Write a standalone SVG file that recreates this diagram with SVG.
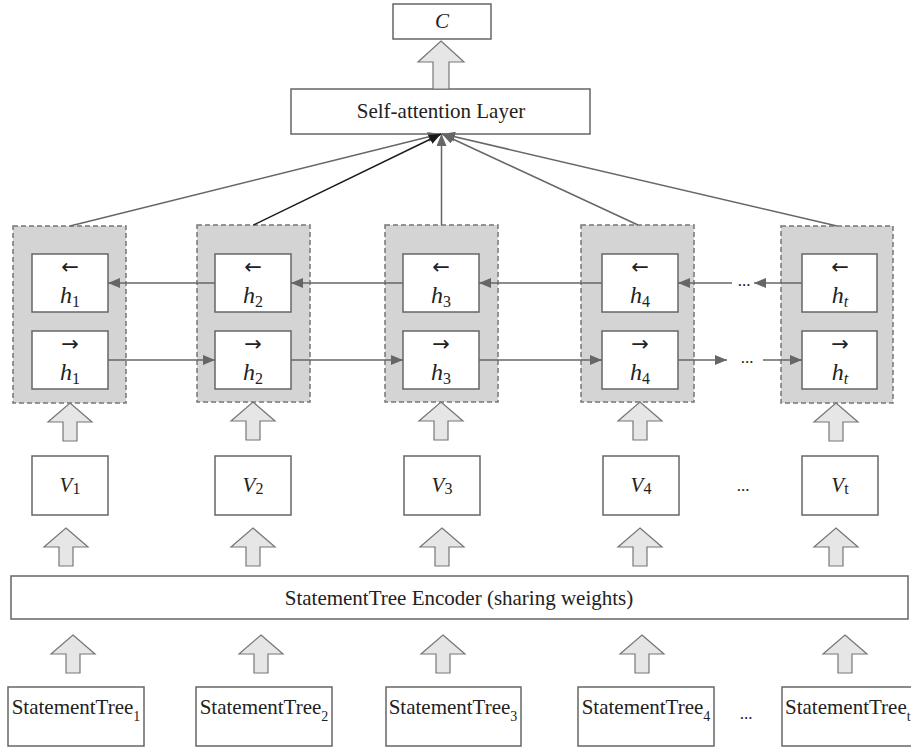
<svg xmlns="http://www.w3.org/2000/svg" xmlns:xlink="http://www.w3.org/1999/xlink" width="911" height="748" viewBox="0 0 911 748">
  <style>
    .box { fill: #ffffff; stroke: #666666; stroke-width: 1.5; }
    .grp { fill: #d4d4d4; stroke: #777777; stroke-width: 1.5; stroke-dasharray: 5 3; }
    .blk { fill: #e6e6e6; stroke: #777777; stroke-width: 1.2; }
    .conn { fill: none; stroke: #666666; stroke-width: 1.5; }
    .dark { stroke: #1a1a1a; }
    .t { font-family: "Liberation Serif", "DejaVu Serif", serif; font-size: 21px; fill: #222222; }
    .h { font-size: 24px; }
    .it { font-style: italic; }
    .sub { font-size: 14px; }
    .hsub { font-size: 16px; }
    .arr { font-family: "DejaVu Sans", sans-serif; font-size: 21px; fill: #222222; }
    .dots { font-family: "Liberation Serif", serif; font-size: 17px; fill: #222222; }
  </style>
  <defs>
    <marker id="head" viewBox="0 0 12 10" markerUnits="userSpaceOnUse" markerWidth="12" markerHeight="10" refX="12" refY="5" orient="auto">
      <path d="M0,0 L12,5 L0,10 z" fill="#666666"/>
    </marker>
    <marker id="headDark" viewBox="0 0 12 10" markerUnits="userSpaceOnUse" markerWidth="12" markerHeight="10" refX="12" refY="5" orient="auto">
      <path d="M0,0 L12,5 L0,10 z" fill="#1a1a1a"/>
    </marker>
    <!-- hollow block arrow, tip at origin -->
    <path id="up" class="blk" d="M0,0 L22,19 L7,19 L7,38 L-7,38 L-7,19 L-22,19 Z"/>
  </defs>

  <!-- output -->
  <g id="node-c">
    <rect class="box" x="393" y="4" width="98" height="35"/>
    <text class="t it" x="442" y="28" text-anchor="middle">C</text>
  </g>
  <g id="node-attention">
    <rect class="box" x="291" y="89" width="299" height="45"/>
    <text class="t" x="441" y="118" text-anchor="middle">Self-attention Layer</text>
  </g>

  <!-- bidirectional hidden-state cells -->
  <g id="node-h1">
    <rect class="grp" x="13" y="226" width="113" height="177"/>
    <rect class="box" x="32" y="254" width="76" height="58"/>
    <rect class="box" x="32" y="331" width="76" height="58"/>
    <text class="arr" x="70" y="274" text-anchor="middle">←</text>
    <text class="t h" x="70" y="303" text-anchor="middle"><tspan class="it">h</tspan><tspan class="hsub" dy="4">1</tspan></text>
    <text class="arr" x="70" y="351" text-anchor="middle">→</text>
    <text class="t h" x="70" y="380" text-anchor="middle"><tspan class="it">h</tspan><tspan class="hsub" dy="4">1</tspan></text>
  </g>
  <g id="node-h2">
    <rect class="grp" x="197" y="225" width="113" height="177"/>
    <rect class="box" x="215" y="254" width="76" height="58"/>
    <rect class="box" x="215" y="331" width="76" height="58"/>
    <text class="arr" x="253" y="274" text-anchor="middle">←</text>
    <text class="t h" x="253" y="303" text-anchor="middle"><tspan class="it">h</tspan><tspan class="hsub" dy="4">2</tspan></text>
    <text class="arr" x="253" y="351" text-anchor="middle">→</text>
    <text class="t h" x="253" y="380" text-anchor="middle"><tspan class="it">h</tspan><tspan class="hsub" dy="4">2</tspan></text>
  </g>
  <g id="node-h3">
    <rect class="grp" x="385" y="225" width="113" height="177"/>
    <rect class="box" x="403" y="254" width="76" height="58"/>
    <rect class="box" x="403" y="331" width="76" height="58"/>
    <text class="arr" x="441" y="274" text-anchor="middle">←</text>
    <text class="t h" x="441" y="303" text-anchor="middle"><tspan class="it">h</tspan><tspan class="hsub" dy="4">3</tspan></text>
    <text class="arr" x="441" y="351" text-anchor="middle">→</text>
    <text class="t h" x="441" y="380" text-anchor="middle"><tspan class="it">h</tspan><tspan class="hsub" dy="4">3</tspan></text>
  </g>
  <g id="node-h4">
    <rect class="grp" x="581" y="225" width="113" height="177"/>
    <rect class="box" x="602" y="254" width="76" height="58"/>
    <rect class="box" x="602" y="331" width="76" height="58"/>
    <text class="arr" x="640" y="274" text-anchor="middle">←</text>
    <text class="t h" x="640" y="303" text-anchor="middle"><tspan class="it">h</tspan><tspan class="hsub" dy="4">4</tspan></text>
    <text class="arr" x="640" y="351" text-anchor="middle">→</text>
    <text class="t h" x="640" y="380" text-anchor="middle"><tspan class="it">h</tspan><tspan class="hsub" dy="4">4</tspan></text>
  </g>
  <g id="node-ht">
    <rect class="grp" x="781" y="226" width="112" height="177"/>
    <rect class="box" x="802" y="254" width="75" height="58"/>
    <rect class="box" x="802" y="331" width="75" height="58"/>
    <text class="arr" x="840" y="274" text-anchor="middle">←</text>
    <text class="t h" x="840" y="303" text-anchor="middle"><tspan class="it">h</tspan><tspan class="hsub it" dy="4">t</tspan></text>
    <text class="arr" x="840" y="351" text-anchor="middle">→</text>
    <text class="t h" x="840" y="380" text-anchor="middle"><tspan class="it">h</tspan><tspan class="hsub it" dy="4">t</tspan></text>
  </g>

  <!-- statement vectors -->
  <g id="node-v1">
    <rect class="box" x="32" y="456" width="76" height="59"/>
    <text class="t" x="70" y="492" text-anchor="middle"><tspan class="it">V</tspan><tspan class="hsub" dy="2">1</tspan></text>
  </g>
  <g id="node-v2">
    <rect class="box" x="215" y="456" width="76" height="59"/>
    <text class="t" x="253" y="492" text-anchor="middle"><tspan class="it">V</tspan><tspan class="hsub" dy="2">2</tspan></text>
  </g>
  <g id="node-v3">
    <rect class="box" x="404" y="456" width="76" height="59"/>
    <text class="t" x="442" y="492" text-anchor="middle"><tspan class="it">V</tspan><tspan class="hsub" dy="2">3</tspan></text>
  </g>
  <g id="node-v4">
    <rect class="box" x="603" y="456" width="76" height="59"/>
    <text class="t" x="641" y="492" text-anchor="middle"><tspan class="it">V</tspan><tspan class="hsub" dy="2">4</tspan></text>
  </g>
  <g id="node-vt">
    <rect class="box" x="802" y="456" width="76" height="59"/>
    <text class="t" x="840" y="492" text-anchor="middle"><tspan class="it">V</tspan><tspan class="hsub" dy="2">t</tspan></text>
  </g>
  <text class="dots" x="743" y="491" text-anchor="middle">...</text>

  <!-- shared encoder -->
  <g id="node-encoder">
    <rect class="box" x="11" y="576" width="897" height="43"/>
    <text class="t" x="459" y="605" text-anchor="middle">StatementTree Encoder (sharing weights)</text>
  </g>

  <!-- input statement trees -->
  <g id="node-st1">
    <rect class="box" x="8" y="687" width="136" height="59"/>
    <text class="t" x="76" y="714" text-anchor="middle">StatementTree<tspan class="sub" dy="7">1</tspan></text>
  </g>
  <g id="node-st2">
    <rect class="box" x="196" y="687" width="136" height="59"/>
    <text class="t" x="264" y="714" text-anchor="middle">StatementTree<tspan class="sub" dy="7">2</tspan></text>
  </g>
  <g id="node-st3">
    <rect class="box" x="386" y="687" width="135" height="59"/>
    <text class="t" x="453" y="714" text-anchor="middle">StatementTree<tspan class="sub" dy="7">3</tspan></text>
  </g>
  <g id="node-st4">
    <rect class="box" x="578" y="687" width="136" height="59"/>
    <text class="t" x="646" y="714" text-anchor="middle">StatementTree<tspan class="sub" dy="7">4</tspan></text>
  </g>
  <g id="node-stt">
    <rect class="box" x="782" y="687" width="138" height="59"/>
    <text class="t" x="785" y="714" font-size="20">StatementTree<tspan class="sub" dy="7">t</tspan></text>
  </g>
  <text class="dots" x="746" y="719" text-anchor="middle">...</text>

  <!-- connectors -->
  <g id="connectors">
    <!-- into output -->
    <path class="blk" d="M441,41 L464,62 L449,62 L449,89 L433,89 L433,62 L418,62 Z"/>

    <!-- attention inputs -->
    <line class="conn" x1="70" y1="226" x2="440" y2="134" marker-end="url(#head)"/>
    <line class="conn" x1="638" y1="225" x2="442" y2="134" marker-end="url(#head)"/>
    <line class="conn" x1="837" y1="226" x2="443" y2="134" marker-end="url(#head)"/>
    <line class="conn" x1="441.5" y1="225" x2="441.5" y2="134" marker-end="url(#head)"/>
    <line class="conn dark" x1="253.5" y1="225" x2="441" y2="134" marker-end="url(#headDark)"/>

    <!-- backward direction -->
    <line class="conn" x1="215" y1="283" x2="108" y2="283" marker-end="url(#head)"/>
    <line class="conn" x1="403" y1="283" x2="291" y2="283" marker-end="url(#head)"/>
    <line class="conn" x1="602" y1="283" x2="479" y2="283" marker-end="url(#head)"/>
    <line class="conn" x1="802" y1="283" x2="754" y2="283" marker-end="url(#head)"/>
    <line class="conn" x1="732" y1="283" x2="678" y2="283" marker-end="url(#head)"/>
    <text class="dots" x="744" y="286" text-anchor="middle">...</text>

    <!-- forward direction -->
    <line class="conn" x1="108" y1="360" x2="215" y2="360" marker-end="url(#head)"/>
    <line class="conn" x1="291" y1="360" x2="403" y2="360" marker-end="url(#head)"/>
    <line class="conn" x1="479" y1="360" x2="602" y2="360" marker-end="url(#head)"/>
    <line class="conn" x1="678" y1="360" x2="727" y2="360" marker-end="url(#head)"/>
    <line class="conn" x1="763" y1="360" x2="802" y2="360" marker-end="url(#head)"/>
    <text class="dots" x="747" y="363" text-anchor="middle">...</text>

    <!-- vectors into cells -->
    <use xlink:href="#up" x="70" y="403"/>
    <use xlink:href="#up" x="253" y="402"/>
    <use xlink:href="#up" x="441" y="402"/>
    <use xlink:href="#up" x="640" y="402"/>
    <use xlink:href="#up" x="836" y="403"/>

    <!-- encoder into vectors -->
    <use xlink:href="#up" x="66" y="528"/>
    <use xlink:href="#up" x="253" y="528"/>
    <use xlink:href="#up" x="442" y="528"/>
    <use xlink:href="#up" x="640" y="528"/>
    <use xlink:href="#up" x="836" y="528"/>

    <!-- trees into encoder -->
    <use xlink:href="#up" x="73" y="635"/>
    <use xlink:href="#up" x="261" y="635"/>
    <use xlink:href="#up" x="443" y="635"/>
    <use xlink:href="#up" x="642" y="635"/>
    <use xlink:href="#up" x="845" y="635"/>
  </g>
</svg>
